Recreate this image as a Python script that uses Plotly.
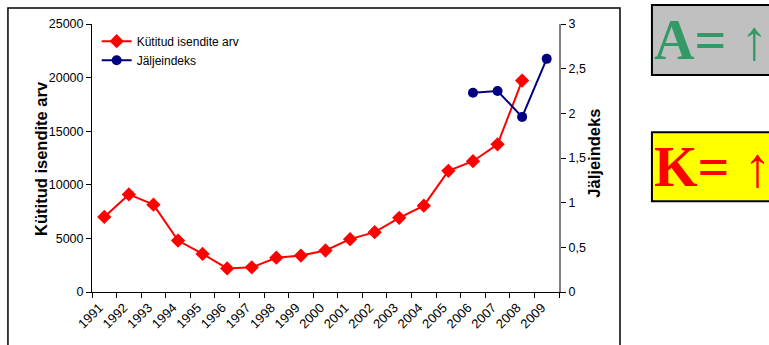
import plotly.graph_objects as go

# Data
years = [str(y) for y in range(1991, 2010)]
kutitud = [7000, 9100, 8150, 4800, 3550, 2200, 2300, 3200, 3400, 3870,
           4930, 5580, 6920, 8050, 11300, 12200, 13780, 19720, None]
jaljeindeks = [None] * 15 + [2.23, 2.25, 1.96, 2.61]
left_ticks = [0, 5000, 10000, 15000, 20000, 25000]
left_ticklabels = ["0", "5000", "10000", "15000", "20000", "25000"]
right_ticks = [0, 0.5, 1, 1.5, 2, 2.5, 3]
right_ticklabels = ["0", "0,5", "1", "1,5", "2", "2,5", "3"]

FONT = "Arial, Liberation Sans, sans-serif"
SERIF = "Times New Roman, Liberation Serif, serif"

fig = go.Figure()
fig.add_trace(go.Scatter(
    x=years, y=kutitud, name="Kütitud isendite arv", mode="lines+markers",
    line=dict(color="#FF0000", width=2),
    marker=dict(symbol="diamond", size=11, color="#FF0000"),
    connectgaps=False,
))
fig.add_trace(go.Scatter(
    x=years, y=jaljeindeks, name="Jäljeindeks", mode="lines+markers",
    line=dict(color="#000080", width=2),
    marker=dict(symbol="circle", size=10, color="#000080"),
    yaxis="y2",
))

fig.update_layout(
    width=769, height=345,
    margin=dict(l=92, r=210, t=24, b=53),
    paper_bgcolor="white", plot_bgcolor="white",
    font=dict(family=FONT, size=12, color="black"),
    showlegend=True,
    legend=dict(x=0.01, y=0.99, xanchor="left", yanchor="top",
                bgcolor="rgba(0,0,0,0)", font=dict(size=12, family=FONT),
                itemwidth=30, tracegroupgap=2),
    xaxis=dict(
        type="category", categoryorder="array", categoryarray=years,
        tickangle=-45, tickson="boundaries", ticks="outside", ticklen=5,
        tickcolor="black", showline=True, linecolor="black", linewidth=1,
        showgrid=False, zeroline=False, tickfont=dict(size=13),
        ticklabelshift=-5, ticklabelstandoff=2,
        range=[-0.5, len(years) - 0.5],
    ),
    yaxis=dict(
        range=[0, 25000], tickvals=left_ticks, ticktext=left_ticklabels,
        ticks="outside", ticklen=5,
        tickcolor="black", showline=True, linecolor="black", linewidth=1,
        showgrid=False, zeroline=False, tickfont=dict(size=12.5),
    ),
    yaxis2=dict(
        overlaying="y", side="right", range=[0, 3],
        tickvals=right_ticks, ticktext=right_ticklabels,
        ticks="outside", ticklen=5, tickcolor="black",
        showline=True, linecolor="#808080", linewidth=2,
        showgrid=False, zeroline=False, tickfont=dict(size=12.5),
    ),
)

# Axis titles
fig.add_annotation(text="<b>Kütitud isendite arv</b>", xref="paper", yref="paper",
                   x=-0.133, y=0.5, textangle=-90, showarrow=False,
                   font=dict(size=16.5, family=FONT))
fig.add_annotation(text="<b>Jäljeindeks</b>", xref="paper", yref="paper",
                   x=1.0985, y=0.52, textangle=-90, showarrow=False,
                   font=dict(size=16.5, family=FONT))

# Chart frame
fig.add_shape(type="rect", xref="paper", yref="paper",
              x0=-0.18, x1=1.1306, y0=-0.25, y1=1.0598,
              line=dict(color="black", width=1.5), fillcolor="rgba(0,0,0,0)",
              layer="below")

# Side boxes
fig.add_shape(type="rect", xref="paper", yref="paper",
              x0=1.199, x1=1.6, y0=0.8095, y1=1.071,
              line=dict(color="black", width=2), fillcolor="#C0C0C0")
fig.add_shape(type="rect", xref="paper", yref="paper",
              x0=1.199, x1=1.6, y0=0.339, y1=0.5965,
              line=dict(color="black", width=2), fillcolor="#FFFF00")
fig.add_annotation(text="<b>A= ↑</b>", xref="paper", yref="paper",
                   x=1.199, y=0.94, xanchor="left", yanchor="middle",
                   showarrow=False, font=dict(size=56, family=SERIF, color="#339966"))
fig.add_annotation(text="<b>K= ↑</b>", xref="paper", yref="paper",
                   x=1.199, y=0.468, xanchor="left", yanchor="middle",
                   showarrow=False, font=dict(size=56, family=SERIF, color="#FF0000"))

fig.write_html("out.html")
